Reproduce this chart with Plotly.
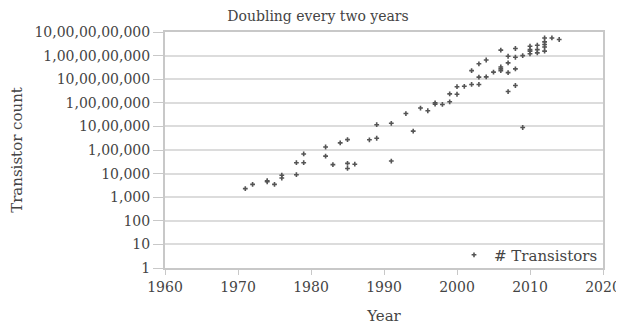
import plotly.graph_objects as go

years = [1971, 1972, 1974, 1974, 1975, 1976, 1976, 1978, 1978, 1979, 1979,
         1982, 1982, 1983, 1984, 1985, 1985, 1985, 1986, 1988, 1989, 1989,
         1991, 1991, 1993, 1994, 1995, 1996, 1997, 1997, 1998, 1999, 1999,
         2000, 2000, 2001, 2002, 2002, 2003, 2003, 2003, 2004, 2004, 2005,
         2006, 2006, 2006, 2006, 2007, 2007, 2007, 2007,
         2008, 2008, 2008, 2008, 2009, 2009,
         2010, 2010, 2010, 2010, 2011, 2011, 2011,
         2012, 2012, 2012, 2012, 2012, 2013, 2014]
transistors = [2300, 3500, 4500, 5000, 3500, 8500, 6500, 29000, 9000, 29000, 68000,
               134000, 55000, 24000, 200000, 275000, 27000, 16500, 25000, 270000, 1180000, 315000,
               1350000, 34000, 3500000, 630000, 6000000, 4600000, 10000000, 8800000, 8500000, 11000000, 24000000,
               23000000, 48000000, 50000000, 60000000, 230000000, 60000000, 122000000, 450000000, 125000000, 650000000, 200000000,
               1700000000, 330000000, 275000000, 230000000, 940000000, 490000000, 190000000, 30000000,
               2000000000, 850000000, 275000000, 54000000, 1000000000, 900000,
               2500000000, 1800000000, 1550000000, 1200000000, 2750000000, 1800000000, 1300000000,
               5600000000, 3800000000, 2950000000, 2300000000, 1550000000, 5600000000, 4800000000]

y_tickvals = [1, 10, 100, 1000, 10000, 100000, 1000000, 10000000, 100000000, 1000000000, 10000000000]
y_ticktext = ["1", "10", "100", "1,000", "10,000", "1,00,000", "10,00,000", "1,00,00,000",
              "10,00,00,000", "1,00,00,00,000", "10,00,00,00,000"]
x_tickvals = [1960, 1970, 1980, 1990, 2000, 2010, 2020]

FONT = "DejaVu Serif"
TXT = "#444444"

# the page body has an 8px default margin; size the figure so the page never scrolls
W, H = 608, 317

fig = go.Figure()
fig.add_trace(go.Scatter(
    x=years, y=transistors, mode="markers", name="# Transistors",
    marker=dict(symbol="cross", size=4, color="#555555"),
))

fig.update_layout(
    width=W, height=H,
    margin=dict(l=157, r=13, t=24, b=H - 260.5, autoexpand=False),
    paper_bgcolor="white", plot_bgcolor="white",
    font=dict(family=FONT, size=14, color=TXT),
    title=dict(text="Doubling every two years", x=(318 - 8) / W, xref="container", xanchor="center",
               y=1 - 8 / H, yref="container", yanchor="middle", automargin=False,
               font=dict(family=FONT, size=14, color=TXT)),
    showlegend=True,
    legend=dict(x=1.0, y=-0.015, xanchor="right", yanchor="bottom",
                bgcolor="rgba(255,255,255,0)", font=dict(family=FONT, size=15, color=TXT),
                itemwidth=30),
)
fig.update_xaxes(
    range=[1960, 2020], tickvals=x_tickvals, ticks="outside", ticklen=5, tickcolor="#c8c8c8",
    showgrid=False, showline=True, linecolor="#c8c8c8", linewidth=2, mirror=True,
    automargin=True, ticklabeloverflow="allow",
    title=dict(text="Year", font=dict(family=FONT, size=15, color=TXT), standoff=21),
    tickfont=dict(family=FONT, size=14, color=TXT), zeroline=False,
)
fig.update_yaxes(
    type="log", range=[0, 10], tickvals=y_tickvals, ticktext=y_ticktext,
    ticks="outside", ticklen=10, tickcolor="#c8c8c8",
    showgrid=True, gridcolor="#dcdcdc", gridwidth=2,
    showline=True, linecolor="#c8c8c8", linewidth=2, mirror=True,
    automargin=True, ticklabeloverflow="allow",
    title=dict(text="Transistor count", font=dict(family=FONT, size=15, color=TXT), standoff=11),
    tickfont=dict(family=FONT, size=14, color=TXT), zeroline=False,
)

fig.write_html("out.html")
